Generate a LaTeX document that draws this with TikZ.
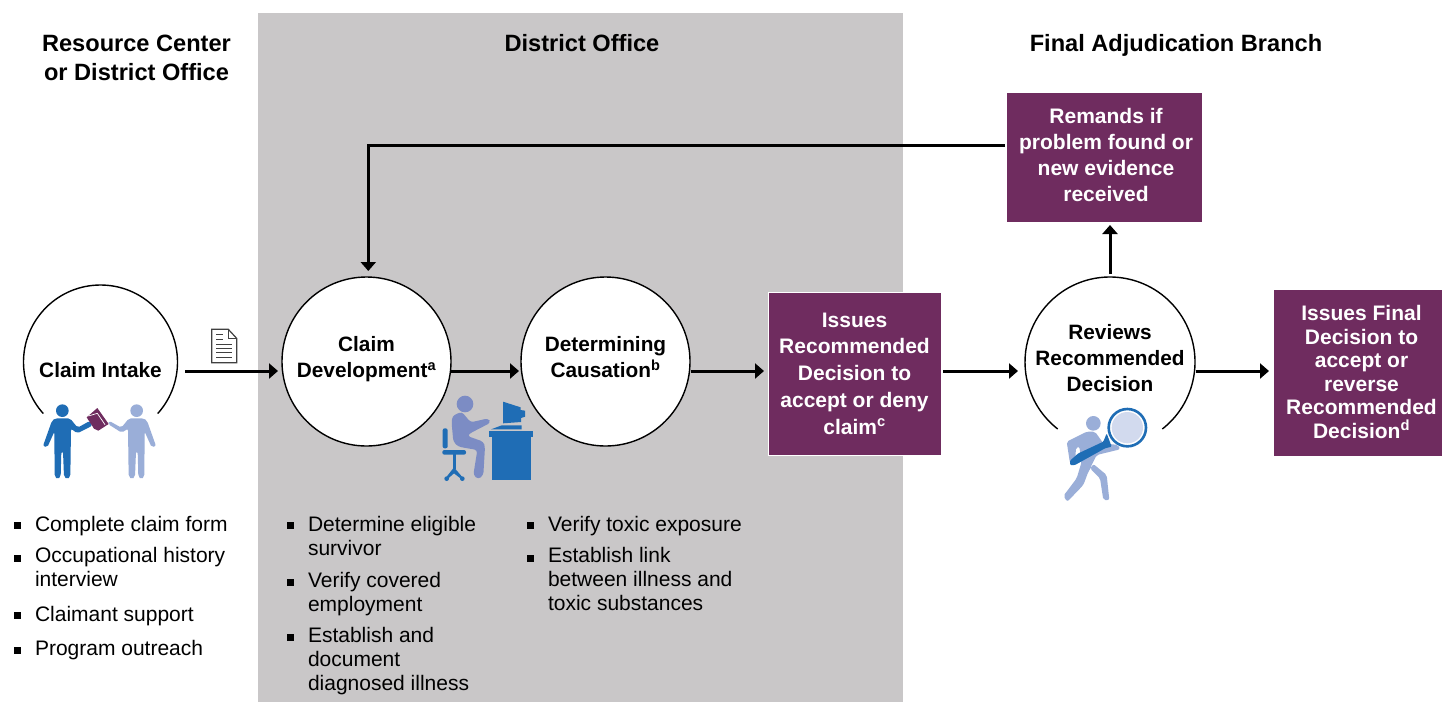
\documentclass[tikz,border=0pt]{standalone}
\usepackage{fontspec}
\setmainfont{Liberation Sans}
\usetikzlibrary{arrows.meta}
\definecolor{panel}{HTML}{C9C7C8}
\definecolor{plum}{HTML}{6F2C5F}
\definecolor{dkblue}{HTML}{1F6DB5}
\definecolor{ltblue}{HTML}{9AAED8}
\definecolor{slate}{HTML}{7C8CC4}
\definecolor{lens}{HTML}{D2DAEE}
\tikzset{
  every node/.style={inner sep=0pt,outer sep=0pt},
  head/.style={font=\fontsize{23.6}{29}\selectfont\bfseries,align=center},
  circ/.style={circle,draw=black,line width=1.4pt,fill=white},
  opencirc/.style={circle},
  circlab/.style={font=\fontsize{20.8}{26}\selectfont\bfseries,align=center,text=black},
  box/.style={rectangle,fill=plum},
  boxlab/.style={text=white,font=\fontsize{21}{26}\selectfont\bfseries,align=center},
  itemtext/.style={anchor=north west,font=\fontsize{21}{24}\selectfont,align=left},
  bul/.style={rectangle,fill=black,minimum size=7pt},
  arr/.style={line width=3pt,-{Triangle[length=9pt,width=15pt]}},
  arc line/.style={line width=1.4pt,draw=black},
}
\begin{document}
\begin{tikzpicture}[x=1pt,y=-1pt]
\useasboundingbox (0,0) rectangle (1442,702);
\fill[white] (0,0) rectangle (1442,702);
\fill[panel] (258,13) rectangle (903,702);

% headings
\node[head] (h1) at (136.5,58) {Resource Center\\or District Office};
\node[head] (h2) at (582,43.5) {District Office};
\node[head] (h3) at (1176,45.5) {Final Adjudication Branch};

% circles
\node[opencirc,minimum size=154pt,label={[circlab,yshift=-8pt]center:{Claim Intake}}] (intake) at (100.5,362) {};
\draw[arc line] (intake.-42) arc[start angle=-42,end angle=222,radius=77pt];
\node[circ,minimum size=169pt,label={[circlab,yshift=2pt]center:{Claim\\Development\textsuperscript{a}}}] (dev) at (366.5,361.5) {};
\node[circ,minimum size=169pt,label={[circlab,yshift=4pt]center:{Determining\\Causation\textsuperscript{b}}}] (cause) at (605.5,361.5) {};
\node[opencirc,minimum size=170pt,label={[circlab,yshift=4pt]center:{Reviews\\Recommended\\Decision}}] (review) at (1110,362) {};
\draw[arc line] (review.-52) arc[start angle=-52,end angle=232,radius=85pt];

% boxes
\node[box,draw=white,line width=1pt,minimum width=173pt,minimum height=163pt,label={[boxlab,font=\fontsize{21}{26.7}\selectfont\bfseries]center:{Issues\\Recommended\\Decision to\\accept or deny\\claim\textsuperscript{c}}}] (rec) at (854.5,373.5) {};
\node[box,minimum width=195pt,minimum height=129pt,label={[boxlab,xshift=1.5pt,yshift=3pt]center:{Remands if\\problem found or\\new evidence\\received}}] (remand) at (1104.5,157.5) {};
\node[box,minimum width=168pt,minimum height=166pt,label={[boxlab,font=\fontsize{21}{23.6}\selectfont\bfseries,xshift=3.5pt,yshift=1pt]center:{Issues Final\\Decision to\\accept or\\reverse\\Recommended\\Decision\textsuperscript{d}}}] (final) at (1358,373) {};

% connectors
\draw[arr,shorten <=7.5pt,shorten >=4pt] ([yshift=-9pt]intake.east) -- ([yshift=-9.5pt]dev.west);
\draw[arr,shorten <=0pt,shorten >=2pt] ([yshift=-9.5pt]dev.east) -- ([yshift=-9.5pt]cause.west);
\draw[arr,shorten <=1pt,shorten >=4pt] ([yshift=-9.5pt]cause.east) -- ([yshift=2.5pt]rec.west);
\draw[arr,shorten <=2pt,shorten >=7pt] ([yshift=2.5pt]rec.east) -- ([yshift=-9pt]review.west);
\draw[arr,shorten <=1pt,shorten >=5pt] ([yshift=-9pt]review.east) -- ([yshift=2pt]final.west);
\draw[arr,shorten <=3pt,shorten >=3pt] (review.north) -- (review.north |- remand.south);
\draw[arr,line join=miter,shorten <=2pt,shorten >=6pt] ([yshift=12.5pt]remand.west) -| ([xshift=1.8pt]dev.north);

% document icon
\begin{scope}[shift={(20,320)},scale=1/3]
\draw[line width=1.2pt,fill=white,draw=black!75] (575,28) -- (625,28) -- (650,55) -- (650,128) -- (575,128) -- cycle;
\draw[line width=.8pt,draw=black!75] (625,28) -- (625,55) -- (650,55);
\foreach \yy/\xe in {42/608,57/608,72/637,85/637,98/637,112/637}
  \draw[line width=1pt,draw=black!75] (588,\yy) -- (\xe,\yy);
\end{scope}

% two people
\begin{scope}[shift={(20,320)},scale=1/3]
\fill[dkblue] (127,272) circle (19);
\fill[dkblue,rounded corners=2pt] (106,295) -- (150,295) -- (173,323) -- (209,303) -- (217,317) -- (172,340) -- (153,326) -- (151,470) -- (142,478) -- (132,470) -- (129,395) -- (124,395) -- (122,470) -- (113,478) -- (104,470) -- (103,335) -- (82,382) -- (69,378) -- (96,302) -- cycle;
\fill[ltblue] (350,272) circle (19);
\fill[ltblue,rounded corners=2pt] (327,295) -- (371,295) -- (381,302) -- (408,378) -- (395,382) -- (374,335) -- (373,470) -- (364,478) -- (355,470) -- (353,395) -- (348,395) -- (345,470) -- (336,478) -- (326,470) -- (324,326) -- (305,338) -- (264,312) -- (268,303) -- (304,323) -- cycle;
\fill[plum] (200,292) -- (232,264) -- (266,312) -- (235,332) -- (222,326) -- cycle;
\draw[white,line width=.7pt] (205,288) -- (232,280) -- (255,314);
\end{scope}

% desk worker
\begin{scope}[shift={(420,380)},scale=1/3]
\fill[slate] (135,72) circle (25);
\fill[slate,rounded corners=3pt] (97,108) -- (125,95) -- (152,127) -- (205,115) -- (212,128) -- (150,160) -- (142,168) -- (190,185) -- (195,200) -- (190,285) -- (175,298) -- (160,285) -- (172,210) -- (115,200) -- (100,185) -- (95,130) -- cycle;
\fill[dkblue,rounded corners=2pt] (68,145) rectangle (83,205);
\fill[dkblue,rounded corners=2pt] (67,210) rectangle (138,224);
\draw[dkblue,line width=3pt] (102,220) -- (102,268);
\fill[dkblue] (102,262) -- (80,290) -- (86,294) -- (102,280) -- (120,294) -- (126,290) -- cycle;
\fill[dkblue] (80,296) circle (7) (127,296) circle (7);
\fill[dkblue] (208,153) rectangle (338,171);
\fill[dkblue] (215,171) rectangle (332,300);
\fill[dkblue] (249,65) -- (302,82) -- (302,90) -- (315,92) -- (315,110) -- (303,114) -- (303,126) -- (249,130) -- cycle;
\fill[dkblue] (213,148) -- (245,136) -- (305,136) -- (305,148) -- cycle;
\end{scope}

% magnifier figure
\begin{scope}[shift={(1040,390)},scale=1/3]
\fill[ltblue] (160,100) circle (22);
\fill[ltblue,rounded corners=2pt] (80,155) -- (140,125) -- (165,125) -- (190,160) -- (235,165) -- (240,178) -- (170,195) -- (150,235) -- (180,265) -- (190,330) -- (208,330) -- (200,255) -- (160,222) -- (145,245) -- (130,285) -- (82,335) -- (70,318) -- (110,265) -- (125,215) -- (118,170) -- (108,172) -- (105,222) -- (90,220) -- cycle;
\fill[dkblue,rounded corners=1pt] (200,130) -- (190,155) -- (115,190) -- (90,212) -- (90,225) -- (105,225) -- (195,175) -- (215,170) -- cycle;
\fill[white] (262,113) circle (55);
\draw[dkblue,line width=2.6pt] (262,113) circle (56);
\fill[lens] (262,113) circle (47);
\end{scope}

% lists
\node[bul] (b1) at (17.5,525.7) {};
\node[itemtext] (t1) at (35,516) {Complete claim form};
\node[bul] (b2) at (17.5,558.3) {};
\node[itemtext] (t2) at (35,547) {Occupational history\\interview};
\node[bul] (b3) at (17.5,615.7) {};
\node[itemtext] (t3) at (35,606) {Claimant support};
\node[bul] (b4) at (17.5,650) {};
\node[itemtext] (t4) at (35,640) {Program outreach};

\node[bul] (b5) at (290.5,525.7) {};
\node[itemtext] (t5) at (308,516) {Determine eligible\\survivor};
\node[bul] (b6) at (290.5,582) {};
\node[itemtext] (t6) at (308,572) {Verify covered\\employment};
\node[bul] (b7) at (290.5,637) {};
\node[itemtext] (t7) at (308,627) {Establish and\\document\\diagnosed illness};

\node[bul] (b8) at (530.5,525.7) {};
\node[itemtext] (t8) at (548,516) {Verify toxic exposure};
\node[bul] (b9) at (530.5,558.3) {};
\node[itemtext] (t9) at (548,547) {Establish link\\between illness and\\toxic substances};
\end{tikzpicture}
\end{document}
